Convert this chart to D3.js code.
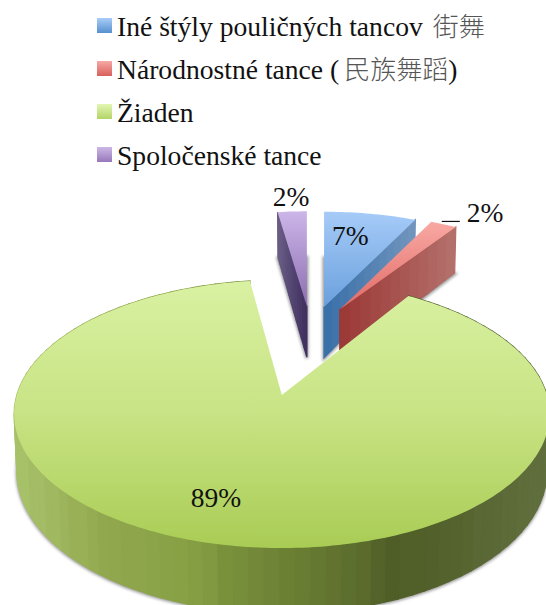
<!DOCTYPE html>
<html><head><meta charset="utf-8">
<script src="https://cdnjs.cloudflare.com/ajax/libs/d3/7.8.5/d3.min.js"></script>
<style>html,body{margin:0;padding:0;background:#fff;overflow:hidden}svg{display:block}</style>
</head><body><svg id="c" width="546" height="605"></svg>
<script>
// ---- data ----
const categories = ["Iné štýly pouličných tancov", "Národnostné tance (", "Žiaden", "Spoločenské tance"];
const categorySuffix = ["街舞", "民族舞蹈", "", ""];
const closing = ["", ")", "", ""];
const values = [7, 2, 89, 2.2];
const explosion = [0.226, 0.226, 0.52, 0.226];

// ---- styles ----
const topColors = [["#a6cbf8","#6aa0dd"],["#f9a8a3","#e06a66"],["#d9f1a2","#a9cc55"],["#ccb6e8","#8c6db0"]];
const swatchColors = [["#a9cdf8","#5590cf"],["#f6a9a5","#d9605c"],["#e3f6b2","#b2d467"],["#cdb7e6","#9678ba"]];
const wallColors = [["#396fa8","#7296be"],["#9b3836","#b4716c"],null,["#6a5e86","#3e2e5e"]];
const greenWallStops = [13,100,180,270,400,546];
const greenWallCols = ["#a9c36c","#93a950","#87a044","#708536","#4f5e27","#606f3d"];

// ---- projection (perspective 3D pie) ----
const K=0.142, A=131.3, B=265, Y0=395, DEPTH=56, CX=311, PC=0.52, BOTTOM_X=0.99;
const svg=d3.select("#c"), defs=svg.append("defs");
const pie=d3.pie().sort(null).value(d=>d);
const arcs=pie(values);

const slices=arcs.map((a,i)=>{
  const mid=(a.startAngle+a.endAngle)/2, e=explosion[i];
  const big=a.endAngle-a.startAngle>Math.PI;
  return {i,a0:a.startAngle,a1:a.endAngle,mid,ax:CX+265*e*Math.sin(mid),py0:(big?0:PC+e*Math.cos(mid)),big};
});
function topPt(s,r,t){const py=s.py0+r*Math.cos(t),k=1/(1+K*py);return [s.ax+B*r*Math.sin(t)*k,Y0-A*py*k];}
function botPt(s,r,t){const py=s.py0+r*Math.cos(t),k=1/(1+K*py);return [s.ax+BOTTOM_X*B*r*Math.sin(t)*k,Y0-A*py*k+DEPTH*k];}
function facePts(f,s){
  const n=Math.max(6,Math.ceil((s.a1-s.a0)/0.02)),ts=d3.range(n+1).map(d=>s.a0+(s.a1-s.a0)*d/n);
  return [f(s,0,0),...ts.map(t=>f(s,1,t))];
}
const line=d3.line().curve(d3.curveLinear);

// gradients
function grad(id,x1,y1,x2,y2,cols){
  const g=defs.append("linearGradient").attr("id",id).attr("gradientUnits","userSpaceOnUse")
    .attr("x1",x1).attr("y1",y1).attr("x2",x2).attr("y2",y2);
  cols.forEach((c,i)=>g.append("stop").attr("offset",i/(cols.length-1)).attr("stop-color",c));
}
const blur=defs.append("filter").attr("id","sh").attr("x","-20%").attr("y","-20%").attr("width","140%").attr("height","140%");
blur.append("feGaussianBlur").attr("stdDeviation",1.6);

// paint: purple, blue, red, green
const order=[3,0,1,2];
order.forEach(idx=>{
  const s=slices[idx], g=svg.append("g");
  // soft shadow of the footprint
  g.append("path").attr("d",line(facePts(botPt,s))+"Z").attr("fill","#777").attr("stroke","#777")
    .attr("stroke-width",s.big?2.2:3).attr("filter","url(#sh)").attr("opacity",.75)
    .attr("transform","translate(0,1)");
  // walls as bands
  let bands=[];
  if(s.big){
    const color=d3.scaleLinear().domain(greenWallStops).range(greenWallCols);
    const n=110;
    for(let j=0;j<n;j++){
      const t0=s.a0+(s.a1-s.a0)*j/n,t1=s.a0+(s.a1-s.a0)*(j+1)/n;
      const p=[topPt(s,1,t0),topPt(s,1,t1),botPt(s,1,t1),botPt(s,1,t0)];
      const xm=(p[0][0]+p[1][0])/2;
      const q=Math.floor(xm/14)*14+7;
      bands.push({p,c:color(q)});
    }
  } else {
    const t=s.mid<Math.PI?s.a1:s.a0, n=12, left=s.mid<Math.PI?0:1;
    const color=d3.scaleLinear().domain([0,1]).range(wallColors[idx]);
    for(let j=0;j<n;j++){
      const r0=j/n,r1=(j+1)/n;
      const p=[topPt(s,r0,t),topPt(s,r1,t),botPt(s,r1,t),botPt(s,r0,t)];
      bands.push({p,c:color(left===0?(r0+r1)/2:1-(r0+r1)/2)});
    }
  }
  g.selectAll("path.w").data(bands).join("path").attr("class","w")
    .attr("d",d=>line(d.p)+"Z").attr("fill",d=>d.c).attr("stroke",d=>d.c).attr("stroke-width",1.3);
  // top face
  const pts=facePts(topPt,s), ys=pts.map(p=>p[1]);
  const cols=s.big?[topColors[2][0],"#c8e384",topColors[2][1]]:topColors[idx];
  const yEnd=s.big?d3.max(ys):topPt(s,0,0)[1];
  grad("t"+idx,0,d3.min(ys),0,yEnd,cols);
  g.append("path").attr("d",line(pts)+"Z").attr("fill",`url(#t${idx})`);
});

// data labels, anchored on each slice's apex
const labelOffset=[[8,-62],[127,-87],[-91,112],[-34,-100]];
const FF="'Liberation Serif','Noto Sans CJK TC',serif";
slices.forEach((s,i)=>{
  const o=topPt(s,0,0);
  svg.append("text").attr("x",o[0]+labelOffset[i][0]).attr("y",o[1]+labelOffset[i][1])
    .attr("font-family",FF).attr("font-size",27.5).attr("fill","#111").text(Math.round(values[i])+"%");
});
// leader line for the red slice
const rs=slices[1], ro=topPt(rs,0,0);
svg.append("line").attr("x1",ro[0]+102).attr("x2",ro[0]+120).attr("y1",ro[1]-88).attr("y2",ro[1]-88)
  .attr("stroke","#111").attr("stroke-width",1.2);

// legend
const rowY=d3.scalePoint().domain(d3.range(categories.length)).range([18,147]);
categories.forEach((c,i)=>{
  const y=rowY(i);
  grad("s"+i,0,y,0,y+15,swatchColors[i]);
  svg.append("rect").attr("x",97).attr("y",y).attr("width",15).attr("height",15).attr("fill",`url(#s${i})`);
  const t=svg.append("text").attr("x",117).attr("y",y+18).attr("font-family",FF).attr("font-size",27.6).attr("fill","#111");
  t.append("tspan").text(c+(categorySuffix[i]&&i===0?" ":""));
  if(categorySuffix[i]) t.append("tspan").attr("dx",i===0?3:5).attr("fill","#555").attr("font-size",26).attr("font-weight",300).text(categorySuffix[i]);
  if(closing[i]) t.append("tspan").text(closing[i]);
});
</script></body></html>
